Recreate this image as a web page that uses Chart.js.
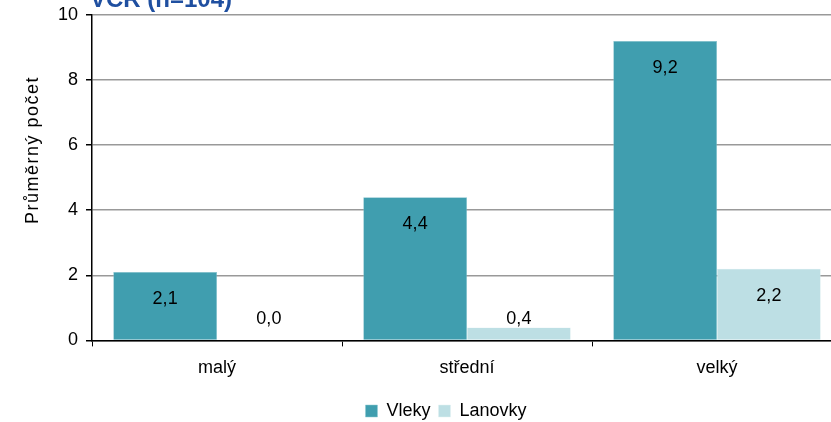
<!DOCTYPE html>
<html>
<head>
<meta charset="utf-8">
<script src="https://cdn.jsdelivr.net/npm/chart.js@4/dist/chart.umd.min.js"></script>
<style>
  html, body { margin: 0; padding: 0; background: #fff; overflow: hidden; }
  #wrap { width: 831px; height: 422px; overflow: hidden; }
</style>
</head>
<body>
<div id="wrap"><canvas id="c" width="892" height="430"></canvas></div>
<script>
const categories = ["malý", "střední", "velký"];
const vleky = [2.1, 4.4, 9.2];
const lanovky = [0.0, 0.4, 2.2];
const yTicks = [0, 2, 4, 6, 8, 10];
const chartTitle = "VČR (n=104)";
const yTitle = "Průměrný počet";

const FONT = "'Liberation Sans', Arial, sans-serif";

const extras = {
  id: "extras",
  afterDatasetsDraw(chart) {
    const ctx = chart.ctx;
    ctx.save();
    ctx.fillStyle = "#000";
    ctx.font = "18px " + FONT;
    ctx.textAlign = "center";
    ctx.textBaseline = "middle";
    chart.data.datasets.forEach((ds, i) => {
      chart.getDatasetMeta(i).data.forEach((bar, j) => {
        const v = ds.data[j];
        const h = bar.base - bar.y;
        const y = h > 50 ? bar.y + 27 : bar.base - 21;
        ctx.fillText(v.toFixed(1).replace(".", ","), bar.x, y);
      });
    });
    ctx.restore();
  },
  afterDraw(chart) {
    const ctx = chart.ctx;
    ctx.save();
    ctx.fillStyle = "#1f4fa0";
    ctx.font = "bold 24px " + FONT;
    ctx.textAlign = "left";
    ctx.textBaseline = "alphabetic";
    ctx.fillText(chartTitle, 90, 7);
    ctx.fillStyle = "#000";
    ctx.font = "18px " + FONT;
    ctx.letterSpacing = "1.5px";
    ctx.translate(33, 150);
    ctx.rotate(-Math.PI / 2);
    ctx.textAlign = "center";
    ctx.textBaseline = "middle";
    ctx.fillText(yTitle, 0, 0);
    ctx.restore();
  }
};

new Chart(document.getElementById("c"), {
  type: "bar",
  data: {
    labels: categories,
    datasets: [
      { label: "Vleky", data: vleky, backgroundColor: "#409eaf", borderColor: "#8ec8d2", borderWidth: 0.5 },
      { label: "Lanovky", data: lanovky, backgroundColor: "#bddfe4", borderColor: "#e0f0f2", borderWidth: 0.5 }
    ]
  },
  options: {
    responsive: false,
    animation: false,
    layout: { padding: { top: 15, left: 0, right: 0, bottom: 0 } },
    datasets: { bar: { categoryPercentage: 0.83, barPercentage: 1 } },
    plugins: {
      legend: {
        position: "bottom",
        labels: {
          boxWidth: 12, boxHeight: 12, padding: 8,
          color: "#000", font: { family: FONT, size: 18 }
        }
      },
      tooltip: { enabled: false }
    },
    scales: {
      x: {
        afterFit(s) { s.height += 4; },
        grid: { offset: true, drawOnChartArea: false, tickColor: "#000", tickLength: 6 },
        border: { color: "#000", width: 1.5 },
        ticks: { color: "#000", font: { family: FONT, size: 18 }, padding: 11 }
      },
      y: {
        min: 0, max: 10,
        afterBuildTicks(s) { s.ticks = yTicks.map(v => ({ value: v })); },
        afterFit(s) { s.width = 92; s.paddingTop = 0; s.paddingBottom = 0; },
        grid: { color: "#999", lineWidth: 1.5, tickColor: "#000", tickLength: 6 },
        border: { color: "#000", width: 1.5 },
        ticks: { color: "#000", font: { family: FONT, size: 18 }, padding: 8 }
      },
      y2: {
        position: "right",
        min: 0, max: 10,
        afterFit(s) { s.width = 50; },
        grid: { display: false, drawTicks: false },
        border: { display: false },
        ticks: { display: false }
      }
    }
  },
  plugins: [extras]
});
</script>
</body>
</html>
